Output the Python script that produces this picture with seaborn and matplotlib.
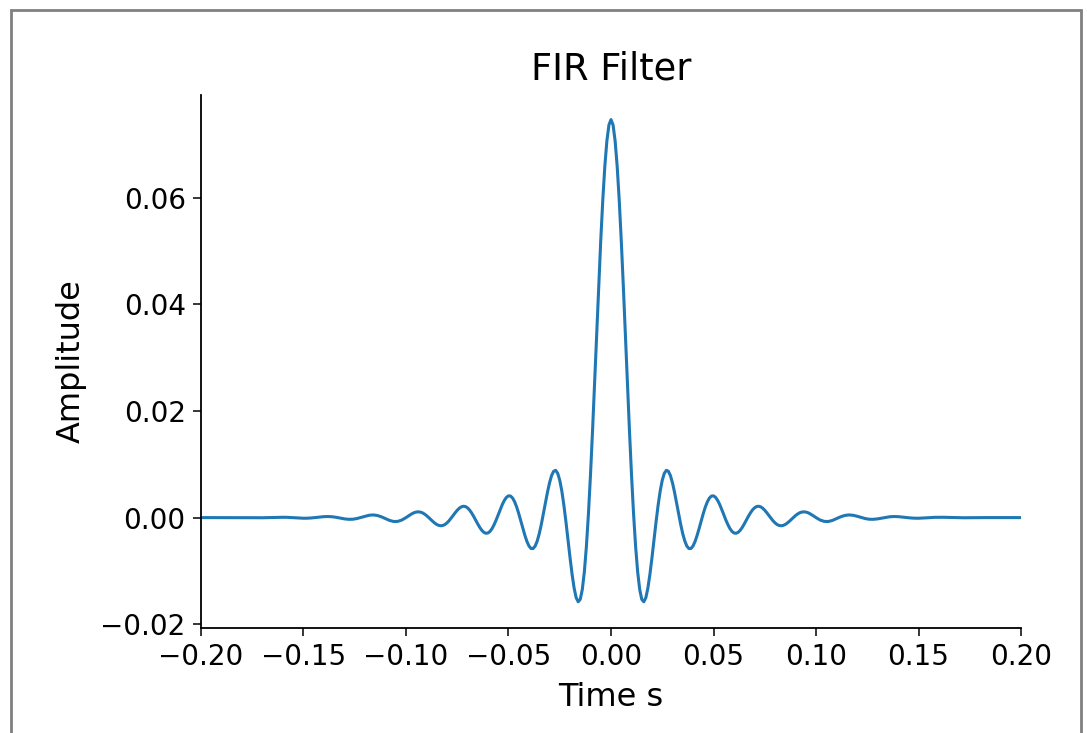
import matplotlib
matplotlib.use("Agg")
import matplotlib.pyplot as plt
from matplotlib.patches import Rectangle
import pandas as pd
import seaborn as sns

# Impulse response of a linear-phase windowed-sinc low-pass FIR filter.
# Only the causal half (t >= 0, in milliseconds) is listed; the taps are symmetric.
time_ms_half = [
    0, 1, 2, 3, 4, 5, 6, 7, 8, 9,
    10, 11, 12, 13, 14, 15, 16, 17, 18, 19,
    20, 21, 22, 23, 24, 25, 26, 27, 28, 29,
    30, 31, 32, 33, 34, 35, 36, 37, 38, 39,
    40, 41, 42, 43, 44, 45, 46, 47, 48, 49,
    50, 51, 52, 53, 54, 55, 56, 57, 58, 59,
    60, 61, 62, 63, 64, 65, 66, 67, 68, 69,
    70, 71, 72, 73, 74, 75, 76, 77, 78, 79,
    80, 81, 82, 83, 84, 85, 86, 87, 88, 89,
    90, 91, 92, 93, 94, 95, 96, 97, 98, 99,
    100, 102, 104, 106, 108, 110, 112, 114, 116, 118,
    120, 122, 124, 126, 128, 130, 132, 134, 136, 138,
    140, 142, 144, 146, 148, 150, 152, 154, 156, 158,
    160, 162, 164, 166, 168, 170, 172, 174, 176, 178,
    180, 182, 184, 186, 188, 190, 192, 194, 196, 198,
    200,
]

amplitude_half = [
    0.07460, 0.07361, 0.07066, 0.06591, 0.05958, 0.05199, 0.04347, 0.03442, 0.02525, 0.01634,
    0.00807, 0.00074, -0.00539, -0.01016, -0.01347, -0.01532, -0.01578, -0.01501, -0.01319, -0.01058,
    -0.00745, -0.00407, -0.00072, 0.00237, 0.00500, 0.00700, 0.00830, 0.00886, 0.00868, 0.00786,
    0.00649, 0.00473, 0.00273, 0.00067, -0.00129, -0.00302, -0.00440, -0.00534, -0.00580, -0.00579,
    -0.00533, -0.00448, -0.00334, -0.00202, -0.00062, 0.00075, 0.00197, 0.00296, 0.00366, 0.00404,
    0.00408, 0.00380, 0.00324, 0.00247, 0.00154, 0.00055, -0.00043, -0.00131, -0.00205, -0.00258,
    -0.00288, -0.00294, -0.00277, -0.00239, -0.00185, -0.00119, -0.00048, 0.00023, 0.00088, 0.00143,
    0.00183, 0.00207, 0.00213, 0.00202, 0.00176, 0.00138, 0.00091, 0.00040, -0.00011, -0.00059,
    -0.00099, -0.00129, -0.00147, -0.00153, -0.00146, -0.00129, -0.00102, -0.00069, -0.00033, 0.00004,
    0.00038, 0.00067, 0.00090, 0.00103, 0.00108, 0.00104, 0.00093, 0.00074, 0.00051, 0.00026,
    0.00000, -0.00045, -0.00071, -0.00073, -0.00053, -0.00020, 0.00015, 0.00040, 0.00050, 0.00044,
    0.00026, 0.00003, -0.00018, -0.00031, -0.00032, -0.00024, -0.00010, 0.00005, 0.00016, 0.00020,
    0.00018, 0.00011, 0.00002, -0.00006, -0.00011, -0.00012, -0.00009, -0.00004, 0.00001, 0.00005,
    0.00006, 0.00006, 0.00004, 0.00001, -0.00001, -0.00003, -0.00003, -0.00002, -0.00001, 0.00000,
    0.00001, 0.00000, 0.00000, 0.00000, 0.00000, 0.00000, 0.00000, 0.00000, 0.00000, 0.00000,
    0.00000,
]

x_ticks = [-0.20, -0.15, -0.10, -0.05, 0.00, 0.05, 0.10, 0.15, 0.20]
y_ticks = [-0.02, 0.00, 0.02, 0.04, 0.06]

# Mirror the causal half to get the full symmetric impulse response
time_s = [-t / 1000.0 for t in reversed(time_ms_half)] + [t / 1000.0 for t in time_ms_half[1:]]
amplitude = list(reversed(amplitude_half)) + amplitude_half[1:]

sns.set_theme(style="ticks")
plt.rcParams["font.family"] = ["DejaVu Sans"]

df = pd.DataFrame({"Time s": time_s, "Amplitude": amplitude})

fig = plt.figure(figsize=(10.87, 7.33), dpi=100)
ax = fig.add_axes([0.1849, 0.1432, 0.7544, 0.7271])

sns.lineplot(data=df, x="Time s", y="Amplitude", ax=ax, color="#1f77b4",
             linewidth=2.2, sort=False, estimator=None)

ax.set_xlim(-0.2, 0.2)
ax.set_ylim(-0.0207, 0.0792)
ax.set_xticks(x_ticks)
ax.set_yticks(y_ticks)
ax.set_xticklabels([f"{v:.2f}".replace("-", "\u2212") for v in x_ticks])
ax.set_yticklabels([f"{v:.2f}".replace("-", "\u2212") for v in y_ticks])
ax.tick_params(axis="both", labelsize=20, length=6, width=1.1, color="black",
               labelcolor="black", pad=5)
ax.set_xlabel("Time s", fontsize=23, color="black", labelpad=8)
ax.set_ylabel("Amplitude", fontsize=23, color="black", labelpad=10)
ax.set_title("FIR Filter", fontsize=26.5, color="black", pad=11)
sns.despine(ax=ax)
for side in ("left", "bottom"):
    ax.spines[side].set_linewidth(1.3)
    ax.spines[side].set_color("black")

# Thin grey frame around the figure
fig.patches.append(Rectangle((0.0101, -0.05), 0.9844, 1.0364, transform=fig.transFigure,
                             fill=False, edgecolor="#808080", linewidth=2))

fig.savefig("out.png", dpi=100)
